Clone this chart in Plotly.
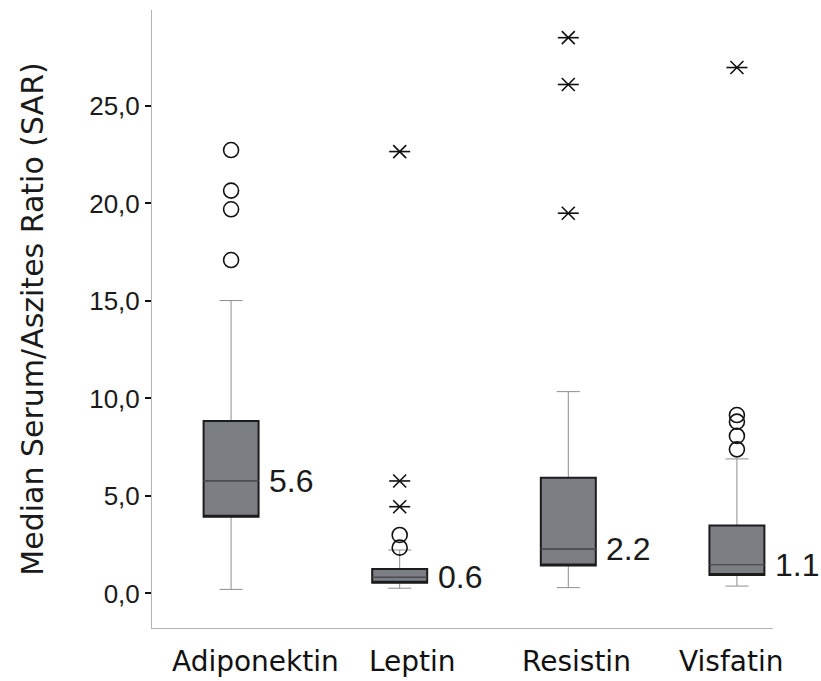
import plotly.graph_objects as go

# ---------------- data ----------------
categories = ["Adiponektin", "Leptin", "Resistin", "Visfatin"]
q1 = [3.94, 0.55, 1.43, 0.95]
median = [5.77, 0.83, 2.28, 1.48]
q3 = [8.85, 1.26, 5.94, 3.48]
lower_whisker = [0.21, 0.27, 0.30, 0.38]
upper_whisker = [15.02, 2.23, 10.35, 6.90]
median_labels = ["5.6", "0.6", "2.2", "1.1"]

circle_outliers = {
    "Adiponektin": [22.74, 20.66, 19.70, 17.10],
    "Leptin": [3.00, 2.35],
    "Visfatin": [9.15, 8.81, 8.08, 7.39],
}
star_outliers = {
    "Leptin": [22.66, 5.77, 4.45],
    "Resistin": [28.50, 26.10, 19.50],
    "Visfatin": [26.97],
}
y_ticks = [0, 5, 10, 15, 20, 25]

# ---------------- styling ----------------
BOX_W = 0.326
WHISK_W = 0.42
label_offset = [0.142, 0.073, 0.046, -0.035]

fig = go.Figure()

# whiskers (thin grey)
fig.add_trace(go.Box(
    x=categories, q1=q1, median=median, q3=q3,
    lowerfence=lower_whisker, upperfence=upper_whisker,
    width=BOX_W, whiskerwidth=WHISK_W, boxpoints=False,
    line=dict(color="#8e8e8e", width=1), fillcolor="rgba(0,0,0,0)",
    hoverinfo="skip", showlegend=False))

# box body (dark border, grey fill)
fig.add_trace(go.Box(
    x=categories, q1=q1, median=q1, q3=q3,
    lowerfence=q1, upperfence=q3,
    width=BOX_W, whiskerwidth=0, boxpoints=False,
    line=dict(color="#1c1c1c", width=2), fillcolor="#7b7f84",
    hoverinfo="skip", showlegend=False))

# median line
fig.add_trace(go.Box(
    x=categories, q1=median, median=median, q3=median,
    lowerfence=median, upperfence=median,
    width=BOX_W, whiskerwidth=0, boxpoints=False,
    line=dict(color="#4a4c4f", width=1), fillcolor="rgba(0,0,0,0)",
    hoverinfo="skip", showlegend=False))

# circle outliers
cx, cy = [], []
for c, vals in circle_outliers.items():
    cx += [c] * len(vals)
    cy += vals
fig.add_trace(go.Scatter(
    x=cx, y=cy, mode="markers", showlegend=False,
    marker=dict(symbol="circle-open", size=15, color="#111111",
                line=dict(width=1.6, color="#111111"))))

# asterisk outliers (horizontal bar + x)
sx, sy = [], []
for c, vals in star_outliers.items():
    sx += [c] * len(vals)
    sy += vals
for sym, sz in (("x-thin-open", 13), ("line-ew-open", 15)):
    fig.add_trace(go.Scatter(
        x=sx, y=sy, mode="markers", showlegend=False,
        marker=dict(symbol=sym, size=sz, color="#111111",
                    line=dict(width=1.6, color="#111111"))))

annotations = []
for i, (c, m, lab) in enumerate(zip(categories, median, median_labels)):
    annotations.append(dict(
        x=i, y=m, xref="x", yref="y", text=lab, showarrow=False,
        xanchor="left", yanchor="middle", xshift=37, borderpad=0,
        font=dict(family="Liberation Sans, Arial", size=32, color="#1a1a1a")))
    annotations.append(dict(
        x=i + label_offset[i], y=0, xref="x", yref="paper", text=c,
        showarrow=False, xanchor="center", yanchor="top", yshift=-16,
        borderpad=0,
        font=dict(family="DejaVu Sans, Verdana", size=28, color="#111111")))

fig.update_layout(
    width=821, height=681,
    margin=dict(l=152, r=48, t=10, b=53, autoexpand=False),
    paper_bgcolor="white", plot_bgcolor="white",
    boxmode="overlay", separators=",.",
    showlegend=False,
    annotations=annotations,
    xaxis=dict(
        type="category", range=[-0.469, 3.214],
        showticklabels=False, ticks="", showgrid=False, zeroline=False,
        showline=True, linecolor="#b4b4b4", linewidth=1),
    yaxis=dict(
        range=[-1.77, 29.92], tickvals=y_ticks, tickformat=".1f",
        ticks="outside", ticklen=6, tickwidth=2, tickcolor="#111111",
        showgrid=False, zeroline=False, automargin=False,
        showline=True, linecolor="#b4b4b4", linewidth=1,
        tickfont=dict(family="Liberation Sans, Arial", size=26, color="#1a1a1a"),
        title=dict(text="Median Serum/Aszites Ratio (SAR)", standoff=36,
                   font=dict(family="DejaVu Sans, Verdana", size=30, color="#1a1a1a"))),
)

fig.write_html("out.html", config={"displayModeBar": False},
               post_script="document.body.style.margin='0px';")
